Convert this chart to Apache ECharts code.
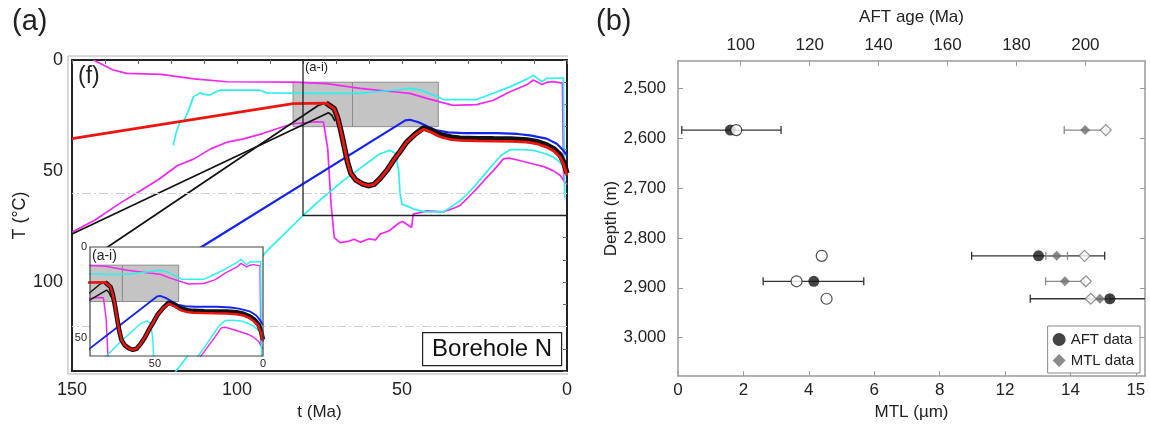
<!DOCTYPE html>
<html>
<head>
<meta charset="utf-8">
<script src="https://cdn.jsdelivr.net/npm/echarts@6/dist/echarts.min.js"></script>
<style>
  html, body { margin: 0; padding: 0; background: #fff; }
  #chart { width: 1150px; height: 426px; }
</style>
</head>
<body>
<div id="chart"></div>
<script>
// ---------- (a) Borehole N thermal histories, points are [t (Ma), T (°C)] ----------
const bestFit = [[150,35.4],[83,19.6],[73,19.4],[70.5,22],[69.5,26],[68.5,32],[67.5,39],[66.5,46],[65.5,51],[64,54],[62,55.8],[60.2,56.6],[58.5,56],[56.7,53.5],[54.5,49.5],[52.6,45.2],[50.5,41],[48.6,37],[46,33.5],[43.5,31.2],[41,32.6],[39,34.2],[37.5,35],[35,35.8],[32.4,36.2],[27,36.4],[22.3,36.5],[17,36.6],[12.2,37],[9,37.8],[6.2,39.2],[4,41],[2.1,43.7],[1,47],[0.3,50.5],[0,52]];
const expectedFit = [[73,19.4],[70.5,22],[69.5,26],[68.5,32],[67.5,39],[66.5,46],[65.5,51],[64,54],[62,55.8],[60.2,56.6],[58.5,56],[56.7,53.5],[54.5,49.5],[52.6,45.2],[50.5,41],[48.6,37],[46,33.3],[43.5,30.6],[41,31.8],[39,33.3],[37.5,34],[35,34.8],[32.4,35.2],[27,35.4],[22.3,35.5],[17,35.6],[12.2,36],[9,36.8],[6.2,38.2],[4,40],[2.1,42.7],[1,46],[0.3,49.5],[0,51]];
const blackShallow = [[150,78.3],[72.3,23.7],[71.2,25],[70.3,27.5]];
const blackSteep = [[141,86],[75.3,20.4],[73.5,19.6]];
const blueHistory = [[125,97],[109.2,82.7],[49,27.2],[47.6,26.9],[45,28],[42,30],[39.5,31.7],[36,32.6],[31.4,32.9],[21.3,32.9],[15,33.3],[11.2,33.9],[6.2,35.4],[3.1,37.7],[1.1,40.7],[0,43]];
const magentaUpper = [[143.5,0],[137.5,4.5],[133.4,6],[123,6.5],[113,8.5],[103,9.8],[83,10],[72.8,10.6],[62.7,12.8],[52.6,14.3],[47.6,15],[42.5,17.3],[34.5,20.4],[27.4,20.1],[22.3,18.1],[17.3,14.3],[12,11],[10.2,9],[7.5,11],[6,10],[4.2,9.7],[1.4,10.4],[1.0,54]];
const magentaLower = [[150,77.5],[143,72],[136,65],[130,59.5],[124,54],[118,47.5],[113,44.5],[108,40],[103,37],[98,35.5],[92,33],[87,30.5],[83,28.7],[76,27.8],[73.8,27.9],[72.5,40],[71.5,65],[70.5,80],[68.8,82.2],[66,81.5],[64.5,80.7],[62.5,82],[60,80.5],[58,81],[56.7,78.4],[54,77],[52.6,75.4],[51,73.5],[49.8,72.7],[48,74.5],[47.1,75.4],[46.6,69.4],[44,68.5],[42.5,67.9],[37.5,68.4],[34,66.5],[32.4,65.5],[30,62],[27.4,58],[25,54],[22.3,49.8],[19.3,44.5],[17.5,44.2],[15,45],[10.2,46.8],[7,48],[4.2,49.8],[2,52],[1,54.3],[0,56]];
const cyanUpper = [[119.3,38.5],[118.5,33],[117.3,27.9],[116,27.3],[114.5,22],[113.2,16.6],[111.2,14.8],[110,15.5],[108.2,15.8],[107,14.8],[105.2,13.6],[93,13.6],[91,14.8],[73,15],[62.7,15],[57.7,14.3],[52,13.5],[47.6,12.8],[44,13.8],[40,16],[37.5,17.8],[27.4,17.8],[22.3,15],[17.3,12.1],[12,8.5],[10.2,6.8],[8.5,8.8],[7.5,9.8],[6.2,8.3],[4,8.3],[1.1,8],[0.7,62]];
const cyanLower = [[119,141],[112,127.5],[104,112],[97,98],[91,86],[85.5,78],[80,70],[74,62],[67.8,54.3],[62,48],[56.7,42.2],[53.6,40.7],[52,42],[51,50],[50.6,60],[50,65],[48,66],[46.6,67],[44,68],[42.5,68.4],[37.5,68.4],[35,66],[32.4,63.3],[30,60],[27.4,55.8],[25,51.5],[22.3,46.8],[20,43],[17.3,40.4],[14,40.3],[10.2,40.7],[7,42],[4.2,43.7],[2.5,45.5],[1.1,47.5],[0,50]];
// constraint boxes: [t start, T top, t end, T bottom]
const constraintBoxes = [[83,10,65,30],[65,10,39,30]];
// outline of the enlarged window (a-i)
const windowOutline = [[80,0],[80,70],[0,70]];
const referenceTemps = [60,120];
const tTicks = [0,10,20,30,40,50,60,70,80,90,100,110,120,130,140,150];
const tLabels = [0,50,100,150];
const TTicks = [0,10,20,30,40,50,60,70,80,90,100,110,120,130,140];
const TLabels = [0,50,100];
const insetTLabels = [0,50];
const insettLabels = [0,50];

// ---------- (b) AFT ages and mean track lengths vs depth ----------
const depthTicks = [2500,2600,2700,2800,2900,3000];
const ageTicks = [100,120,140,160,180,200];
const mtlTickPos = [0,2,4,6,8,10,12,14];
const mtlTickLabels = ['0','2','4','6','8','12','14','15'];
// observed AFT: [age (Ma), depth (m), lower bound, upper bound]
const aftObserved = [[97,2584,82.9,111.7],[186.4,2836,167,205.6],[121.2,2887,106.5,135.7],[207.1,2922,184,230]];
// modelled AFT: [age (Ma), depth (m)]
const aftModelled = [[98.7,2584],[123.5,2836],[116.2,2887],[124.9,2922]];
// observed MTL: [length, depth (m), sd]
const mtlObserved = [[12.45,2584,0.64],[11.58,2836,0.33],[11.83,2887,0.59],[12.9,2922,0.3]];
const mtlModelled = [[13.08,2584],[12.43,2836],[12.47,2887],[12.62,2922]];

const FONT = 'Liberation Sans, Arial, sans-serif';
const chart = echarts.init(document.getElementById('chart'), null, { renderer: 'canvas' });

// inset window placement (pixels)
const INSET = { left: 90, top: 247, width: 173, height: 109 };

// Curves are drawn twice: in the main panel and in the enlarged inset (own layer)
const curves = [
  { data: magentaUpper, color: '#f028f0', w: 1.7, z: 3 },
  { data: magentaLower, color: '#f028f0', w: 1.7, z: 3 },
  { data: cyanUpper, color: '#2ef0f0', w: 1.7, z: 3 },
  { data: cyanLower, color: '#2ef0f0', w: 1.7, z: 3 },
  { data: blackShallow, color: '#111', w: 1.7, z: 4 },
  { data: blackSteep, color: '#111', w: 1.7, z: 4 },
  { data: blueHistory, color: '#1424ee', w: 2.2, z: 5 },
  { data: expectedFit, color: '#111', w: 5.5, z: 6 },
  { data: bestFit, color: '#ee1410', w: 2.8, z: 7 }
];

function boxSeries(xi, yi, z, zlevel) {
  return {
    type: 'custom', xAxisIndex: xi, yAxisIndex: yi, z: z, zlevel: zlevel, silent: true, clip: true,
    data: constraintBoxes,
    renderItem: function (params, api) {
      const p1 = api.coord([api.value(0), api.value(1)]);
      const p2 = api.coord([api.value(2), api.value(3)]);
      return {
        type: 'rect',
        shape: { x: Math.min(p1[0], p2[0]), y: Math.min(p1[1], p2[1]), width: Math.abs(p2[0] - p1[0]), height: Math.abs(p2[1] - p1[1]) },
        style: { fill: '#c4c4c4', stroke: '#8c8c8c', lineWidth: 1 }
      };
    }
  };
}

const series = [];
// main panel
series.push(boxSeries(0, 0, 1, 0));
series.push({
  type: 'line', xAxisIndex: 0, yAxisIndex: 0, data: [], silent: true, z: 1,
  markLine: {
    silent: true, symbol: 'none', label: { show: false },
    lineStyle: { color: '#cfcfcf', width: 1, type: [9, 3, 2, 3] },
    data: referenceTemps.map(v => ({ yAxis: v }))
  }
});
curves.forEach(c => series.push({
  type: 'line', xAxisIndex: 0, yAxisIndex: 0, data: c.data, showSymbol: false, symbol: 'none',
  lineStyle: { color: c.color, width: c.w }, z: c.z, silent: true
}));
series.push({
  type: 'line', xAxisIndex: 0, yAxisIndex: 0, data: windowOutline, showSymbol: false, symbol: 'none',
  lineStyle: { color: '#222', width: 1.3 }, z: 8, silent: true
});
// inset panel
series.push(boxSeries(1, 1, 11, 1));
curves.forEach(c => series.push({
  type: 'line', xAxisIndex: 1, yAxisIndex: 1, data: c.data, showSymbol: false, symbol: 'none',
  lineStyle: { color: c.color, width: Math.max(1.4, c.w * 0.85) }, z: 12 + c.z, zlevel: 1, silent: true, clip: true
}));

// (b) error bars
function errorBars(data, xi, color, z, fromSd) {
  return {
    type: 'custom', xAxisIndex: xi, yAxisIndex: 2, z: z, silent: true, clip: true,
    data: data,
    renderItem: function (params, api) {
      const v = api.value(0), d = api.value(1);
      const lo = fromSd ? v - api.value(2) : api.value(2);
      const hi = fromSd ? v + api.value(2) : api.value(3);
      const a = api.coord([lo, d]);
      const b = api.coord([hi, d]);
      const cap = 4;
      const st = { stroke: color, lineWidth: 1.3 };
      return {
        type: 'group', children: [
          { type: 'line', shape: { x1: a[0], y1: a[1], x2: b[0], y2: b[1] }, style: st },
          { type: 'line', shape: { x1: a[0], y1: a[1] - cap, x2: a[0], y2: a[1] + cap }, style: st },
          { type: 'line', shape: { x1: b[0], y1: b[1] - cap, x2: b[0], y2: b[1] + cap }, style: st }
        ]
      };
    }
  };
}
series.push(errorBars(aftObserved, 3, '#333', 20, false));
series.push(errorBars(mtlObserved, 2, '#8a8a8a', 21, true));
series.push({
  name: 'MTL data', type: 'scatter', xAxisIndex: 2, yAxisIndex: 2, data: mtlObserved.map(r => [r[0], r[1]]),
  symbol: 'diamond', symbolSize: 10, itemStyle: { color: '#6e6e6e' }, z: 22, silent: true
});
series.push({
  name: 'MTL model', type: 'scatter', xAxisIndex: 2, yAxisIndex: 2, data: mtlModelled,
  symbol: 'diamond', symbolSize: 11, itemStyle: { color: '#fff', borderColor: '#777', borderWidth: 1.2 }, z: 23, silent: true
});
series.push({
  name: 'AFT data', type: 'scatter', xAxisIndex: 3, yAxisIndex: 2, data: aftObserved.map(r => [r[0], r[1]]),
  symbol: 'circle', symbolSize: 11, itemStyle: { color: '#151515' }, z: 24, silent: true
});
series.push({
  name: 'AFT model', type: 'scatter', xAxisIndex: 3, yAxisIndex: 2, data: aftModelled,
  symbol: 'circle', symbolSize: 11, itemStyle: { color: '#fff', borderColor: '#222', borderWidth: 1.2 }, z: 25, silent: true
});

const grayAxis = { lineStyle: { color: '#9a9a9a', width: 1.5 } };
const labelStyle = { fontFamily: FONT, fontSize: 17, color: '#222' };
const labelStyleA = { fontFamily: FONT, fontSize: 18, color: '#222' };

const option = {
  animation: false,
  textStyle: { fontFamily: FONT },
  grid: [
    { left: 72, top: 60, width: 495, height: 311, show: true, borderColor: '#222', borderWidth: 2, backgroundColor: 'rgba(0,0,0,0)' },
    { left: INSET.left, top: INSET.top, width: INSET.width, height: INSET.height },
    { left: 678, top: 61, width: 467, height: 317 }
  ],
  xAxis: [
    {
      gridIndex: 0, type: 'value', inverse: true, min: 0, max: 150,
      axisLine: { show: false }, splitLine: { show: false },
      axisTick: { show: true, inside: false, length: 4, customValues: tTicks, lineStyle: { color: '#666' } },
      axisLabel: { customValues: tLabels, margin: 10, ...labelStyleA },
      name: 't (Ma)', nameLocation: 'middle', nameGap: 31, nameTextStyle: { fontSize: 17, color: '#222' }
    },
    {
      gridIndex: 1, type: 'value', inverse: true, min: 0, max: 80, zlevel: 1, z: 30,
      axisLine: { show: false }, splitLine: { show: false }, axisTick: { show: false },
      axisLabel: { customValues: insettLabels, margin: 2, fontSize: 11, color: '#222' }
    },
    {
      gridIndex: 2, type: 'value', min: 0, max: 14.28, position: 'bottom',
      axisLine: grayAxis, splitLine: { show: false },
      axisTick: { show: true, inside: true, length: 5, customValues: mtlTickPos, lineStyle: { color: '#9a9a9a' } },
      axisLabel: { customValues: mtlTickPos, margin: 6, ...labelStyle, formatter: v => mtlTickLabels[Math.round(v / 2)] },
      name: 'MTL (µm)', nameLocation: 'middle', nameGap: 25, nameTextStyle: { fontSize: 17, color: '#222' }
    },
    {
      gridIndex: 2, type: 'value', min: 81.8, max: 217.3, position: 'top',
      axisLine: grayAxis, splitLine: { show: false },
      axisTick: { show: true, inside: true, length: 5, customValues: ageTicks, lineStyle: { color: '#9a9a9a' } },
      axisLabel: { customValues: ageTicks, margin: 7, ...labelStyle },
      name: 'AFT age (Ma)', nameLocation: 'middle', nameGap: 35, nameTextStyle: { fontSize: 17, color: '#222' }
    }
  ],
  yAxis: [
    {
      gridIndex: 0, type: 'value', inverse: true, min: 0, max: 140,
      axisLine: { show: false }, splitLine: { show: false },
      axisTick: { show: true, inside: false, length: 4, customValues: TTicks, lineStyle: { color: '#666' } },
      axisLabel: { customValues: TLabels, margin: 9, ...labelStyleA },
      name: 'T (°C)', nameLocation: 'middle', nameGap: 43, nameTextStyle: { fontSize: 18, color: '#222' }
    },
    {
      gridIndex: 1, type: 'value', inverse: true, min: 0, max: 60, zlevel: 1, z: 30,
      axisLine: { show: false }, splitLine: { show: false }, axisTick: { show: false },
      axisLabel: { customValues: insetTLabels, margin: 3, fontSize: 11, color: '#222' }
    },
    {
      gridIndex: 2, type: 'value', inverse: true, min: 2445.6, max: 3077, offset: 4,
      axisLine: { show: true, ...grayAxis }, splitLine: { show: false },
      axisTick: { show: true, inside: true, length: 5, customValues: depthTicks, lineStyle: { color: '#9a9a9a' } },
      axisLabel: { customValues: depthTicks, margin: 8, ...labelStyle, formatter: v => v.toLocaleString('en-US') },
      name: 'Depth (m)', nameLocation: 'middle', nameGap: 52, nameTextStyle: { fontSize: 17, color: '#222' }
    },
    {
      gridIndex: 2, type: 'value', inverse: true, min: 2445.6, max: 3077, position: 'right',
      axisLine: { show: true, ...grayAxis }, splitLine: { show: false },
      axisTick: { show: true, inside: true, length: 5, customValues: depthTicks, lineStyle: { color: '#9a9a9a' } },
      axisLabel: { show: false }
    }
  ],
  legend: {
    data: [{ name: 'AFT data', icon: 'circle' }, { name: 'MTL data', icon: 'diamond' }],
    orient: 'vertical', right: 10, bottom: 53,
    itemWidth: 13, itemHeight: 13, itemGap: 6,
    textStyle: { fontSize: 15, color: '#222' },
    borderColor: '#888', borderWidth: 1, padding: [6, 6, 5, 5], backgroundColor: '#fff',
    selectedMode: false, z: 40
  },
  graphic: [
    { type: 'text', left: 12, top: 7, style: { text: '(a)', font: '29px ' + FONT, fill: '#222' } },
    { type: 'text', left: 596, top: 7, style: { text: '(b)', font: '29px ' + FONT, fill: '#222' } },
    { type: 'text', left: 78, top: 65, z: 50, style: { text: '(f)', font: '23px ' + FONT, fill: '#222' } },
    { type: 'text', left: 305, top: 61, z: 50, style: { text: '(a-i)', font: '13px ' + FONT, fill: '#222' } },
    // inset window: opaque background on its own layer, frame above the curves
    { type: 'rect', zlevel: 1, z: 1, silent: true, shape: { x: INSET.left, y: INSET.top, width: INSET.width, height: INSET.height }, style: { fill: '#fff', stroke: null } },
    { type: 'rect', zlevel: 1, z: 60, silent: true, shape: { x: INSET.left, y: INSET.top, width: INSET.width, height: INSET.height }, style: { fill: null, stroke: '#444', lineWidth: 1.2 } },
    { type: 'text', zlevel: 1, z: 61, left: 92, top: 249, style: { text: '(a-i)', font: '14px ' + FONT, fill: '#222' } },
    { type: 'polyline', z: 50, silent: true, shape: { points: [[568, 374], [68, 374], [68, 56], [568, 56]] }, style: { stroke: '#b0b0b0', lineWidth: 1, fill: null } },
    {
      type: 'group', left: 422, top: 332, z: 50, children: [
        { type: 'rect', shape: { x: 0, y: 0, width: 139, height: 33 }, style: { fill: '#fff', stroke: '#222', lineWidth: 1.2 } },
        { type: 'text', x: 69.5, y: 17, style: { text: 'Borehole N', font: '24px ' + FONT, fill: '#111', align: 'center', verticalAlign: 'middle' } }
      ]
    }
  ],
  series: series
};
chart.setOption(option);
</script>
</body>
</html>
